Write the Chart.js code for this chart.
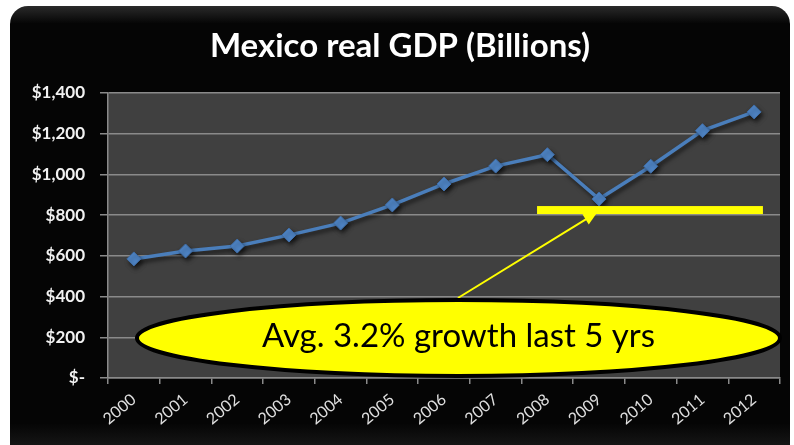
<!DOCTYPE html>
<html>
<head>
<meta charset="utf-8">
<script src="https://cdn.jsdelivr.net/npm/chart.js@4/dist/chart.umd.min.js"></script>
<style>
  html, body { margin: 0; padding: 0; background: #fff; }
  #wrap { width: 794px; height: 445px; }
</style>
</head>
<body>
<div id="wrap"><canvas id="chartGdp" width="794" height="445"></canvas></div>
<script>
const years = ['2000', '2001', '2002', '2003', '2004', '2005', '2006', '2007', '2008', '2009', '2010', '2011', '2012'];
const gdpValues = [585, 624, 648, 702, 761, 850, 953, 1041, 1097, 879, 1040, 1215, 1307];
const yTickValues = [0, 200, 400, 600, 800, 1000, 1200, 1400];
const chartTitle = 'Mexico real GDP (Billions)';
const calloutText = 'Avg. 3.2% growth last 5 yrs';

// black rounded panel + grey plot area
const panelBg = {
  id: 'panelBg',
  beforeDraw(chart) {
    const ctx = chart.ctx;
    const a = chart.chartArea;
    ctx.save();
    ctx.fillStyle = '#fff';
    ctx.fillRect(0, 0, chart.width, chart.height);
    const g = ctx.createLinearGradient(0, 6, 0, 445);
    g.addColorStop(0, '#2a2a2a');
    g.addColorStop(0.04, '#050505');
    g.addColorStop(0.95, '#050505');
    g.addColorStop(1, '#151515');
    ctx.fillStyle = g;
    ctx.beginPath();
    ctx.roundRect(10, 6, 780, 460, 18);
    ctx.fill();
    ctx.fillStyle = '#404040';
    ctx.fillRect(a.left, a.top, a.right - a.left, a.bottom - a.top);
    ctx.restore();
  }
};

// soft shadow under the line and markers
const lineShadow = {
  id: 'lineShadow',
  beforeDatasetsDraw(chart) {
    const ctx = chart.ctx;
    ctx.save();
    ctx.shadowColor = 'rgba(0,0,0,0.6)';
    ctx.shadowBlur = 4;
    ctx.shadowOffsetX = 2;
    ctx.shadowOffsetY = 3;
  },
  afterDatasetsDraw(chart) {
    chart.ctx.restore();
  }
};

// yellow bar, arrow and oval callout, placed in data units
const callout = {
  id: 'callout',
  afterDatasetsDraw(chart) {
    const ctx = chart.ctx;
    const xs = chart.scales.x;
    const ys = chart.scales.y;
    ctx.save();

    // average bar
    const barY = ys.getPixelForValue(825);
    ctx.fillStyle = '#ffff00';
    ctx.fillRect(xs.getPixelForValue(7.8), barY - 4, xs.getPixelForValue(12.17) - xs.getPixelForValue(7.8), 8);

    // arrow
    const x1 = xs.getPixelForValue(6.27), y1 = ys.getPixelForValue(393);
    const x2 = xs.getPixelForValue(8.97), y2 = ys.getPixelForValue(815);
    const ang = Math.atan2(y2 - y1, x2 - x1);
    ctx.strokeStyle = '#ffff00';
    ctx.lineWidth = 2;
    ctx.beginPath();
    ctx.moveTo(x1, y1);
    ctx.lineTo(x2 - 10 * Math.cos(ang), y2 - 10 * Math.sin(ang));
    ctx.stroke();
    ctx.beginPath();
    ctx.moveTo(x2, y2);
    ctx.lineTo(x2 - 14 * Math.cos(ang) + 6 * Math.sin(ang), y2 - 14 * Math.sin(ang) - 6 * Math.cos(ang));
    ctx.lineTo(x2 - 14 * Math.cos(ang) - 6 * Math.sin(ang), y2 - 14 * Math.sin(ang) + 6 * Math.cos(ang));
    ctx.closePath();
    ctx.fill();

    // oval
    const left = xs.getPixelForValue(0.06), right = xs.getPixelForValue(12.5);
    const top = ys.getPixelForValue(383), bottom = ys.getPixelForValue(10);
    const cx = (left + right) / 2, cy = (top + bottom) / 2;
    ctx.beginPath();
    ctx.ellipse(cx, cy, (right - left) / 2, (bottom - top) / 2, 0, 0, Math.PI * 2);
    ctx.fillStyle = '#ffff00';
    ctx.fill();
    ctx.lineWidth = 4;
    ctx.strokeStyle = '#000';
    ctx.stroke();

    ctx.fillStyle = '#000';
    ctx.font = '33px Lato';
    ctx.textAlign = 'center';
    ctx.textBaseline = 'middle';
    ctx.fillText(calloutText, cx, cy - 2);
    ctx.restore();
  }
};

new Chart(document.getElementById('chartGdp').getContext('2d'), {
  type: 'line',
  data: {
    labels: years,
    datasets: [{
      label: 'Real GDP',
      data: gdpValues,
      borderColor: '#4a7ebb',
      backgroundColor: '#4a7ebb',
      borderWidth: 3.5,
      tension: 0,
      pointStyle: 'rectRot',
      pointRadius: 7,
      pointBorderColor: '#3f6ea8',
      pointBackgroundColor: '#4f85c6',
      pointBorderWidth: 1
    }]
  },
  options: {
    responsive: false,
    animation: false,
    layout: { padding: { left: 20, right: 14, top: 0, bottom: 0 } },
    plugins: {
      legend: { display: false },
      tooltip: { enabled: false },
      title: {
        display: true,
        text: chartTitle,
        color: '#fff',
        font: { family: 'Lato', size: 33, weight: 'bold', lineHeight: 1.2 },
        padding: { top: 27, bottom: 26.4 }
      }
    },
    scales: {
      x: {
        offset: true,
        grid: { display: true, drawOnChartArea: false, drawTicks: true, tickLength: 6, color: '#8a8a8a', lineWidth: 1.5, offset: true },
        border: { color: '#8a8a8a', width: 1.5 },
        ticks: {
          color: '#e0e0e0',
          font: { family: 'Lato', size: 16 },
          minRotation: 40,
          maxRotation: 40,
          padding: 6
        },
        afterFit(scale) { scale.height = 67; }
      },
      y: {
        min: 0,
        max: 1400,
        afterBuildTicks(scale) { scale.ticks = yTickValues.map(v => ({ value: v })); },
        grid: { color: '#8a8a8a', lineWidth: 1.5, tickLength: 8 },
        border: { color: '#8a8a8a', width: 1.5 },
        ticks: {
          color: '#f2f2f2',
          padding: 15,
          font: { family: 'Lato', size: 17, weight: 'bold' },
          callback: v => v === 0 ? '$-' : '$' + v.toLocaleString('en-US')
        },
        afterFit(scale) { scale.width = 88; }
      }
    }
  },
  plugins: [panelBg, lineShadow, callout]
});
</script>
</body>
</html>
